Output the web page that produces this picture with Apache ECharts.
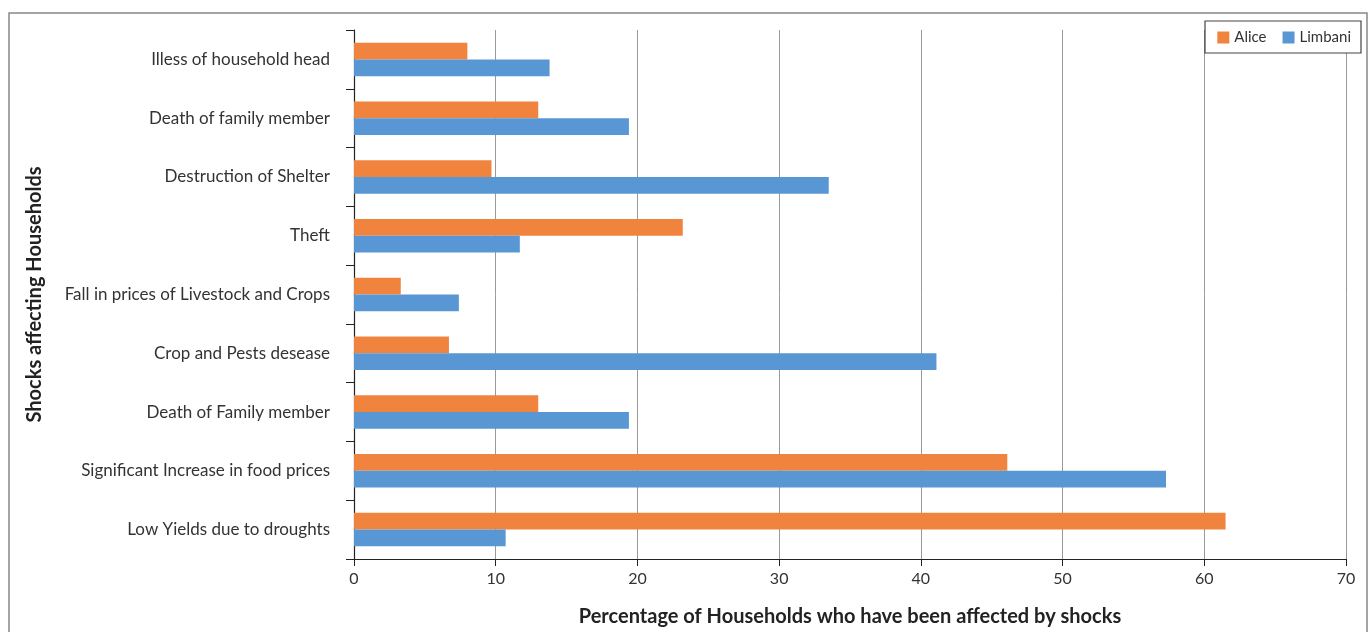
<!DOCTYPE html>
<html><head><meta charset="utf-8">
<script src="https://cdn.jsdelivr.net/npm/echarts@6/dist/echarts.min.js"></script>
<style>html,body{margin:0;padding:0;background:#fff}#c{width:1370px;height:632px}</style>
</head><body><div id="c"></div>
<script>
const categories = [
  "Illess of household head",
  "Death of family member",
  "Destruction of Shelter",
  "Theft",
  "Fall in prices of Livestock and Crops",
  "Crop and Pests desease",
  "Death of Family member",
  "Significant Increase in food prices",
  "Low Yields due to droughts"
];
const alice   = [8.0, 13.0, 9.7, 23.2, 3.3, 6.7, 13.0, 46.1, 61.5];
const limbani = [13.8, 19.4, 33.5, 11.7, 7.4, 41.1, 19.4, 57.3, 10.7];
const xTicks = [0, 10, 20, 30, 40, 50, 60, 70];

const FONT = "Lato";
const chart = echarts.init(document.getElementById('c'), null, {renderer:'canvas'});
chart.setOption({
  animation: false,
  backgroundColor: '#fff',
  textStyle: {fontFamily: FONT},
  graphic: [
    {type:'rect', shape:{x:9, y:13, width:1358, height:640}, style:{fill:'none', stroke:'#888', lineWidth:1.5}, z:-10},
    {type:'rect', shape:{x:1205, y:21, width:156, height:32}, style:{fill:'#fff', stroke:'#444', lineWidth:1.2}, z:5}
  ],
  legend: {
    data: ['Alice', 'Limbani'],
    right: 14, top: 25,
    itemWidth: 12, itemHeight: 12, itemGap: 16,
    icon: 'rect',
    textStyle: {fontFamily: FONT, fontSize: 15, color: '#333'},
    z: 10
  },
  grid: {left: 354, right: 24, top: 30, bottom: 72, containLabel: false},
  xAxis: {
    type: 'value', min: xTicks[0], max: xTicks[xTicks.length-1], interval: 10,
    name: 'Percentage of Households who have been affected by shocks',
    nameLocation: 'middle', nameGap: 48,
    nameTextStyle: {fontFamily: FONT, fontSize: 20, fontWeight: 'bold', color: '#222'},
    axisLine: {show: true, lineStyle: {color: '#222', width: 1.2}},
    axisTick: {show: true, length: 7, lineStyle: {color: '#222'}},
    axisLabel: {fontFamily: FONT, fontSize: 16, color: '#333', margin: 12},
    splitLine: {show: true, lineStyle: {color: '#999', width: 1}}
  },
  yAxis: {
    type: 'category', data: categories, inverse: true,
    name: 'Shocks affecting Households',
    nameLocation: 'middle', nameGap: 309, nameRotate: 90,
    nameTextStyle: {fontFamily: FONT, fontSize: 20, fontWeight: 'bold', color: '#222'},
    axisLine: {show: true, lineStyle: {color: '#222', width: 1.2}},
    axisTick: {show: true, length: 8, lineStyle: {color: '#222'}},
    axisLabel: {fontFamily: FONT, fontSize: 17, color: '#333', margin: 24},
    splitLine: {show: false}
  },
  series: [
    {name: 'Alice', type: 'bar', data: alice, barGap: '0%', barCategoryGap: '43%', itemStyle: {color: '#F0843F'}},
    {name: 'Limbani', type: 'bar', data: limbani, barGap: '0%', barCategoryGap: '43%', itemStyle: {color: '#5897D3'}}
  ]
});
</script></body></html>
